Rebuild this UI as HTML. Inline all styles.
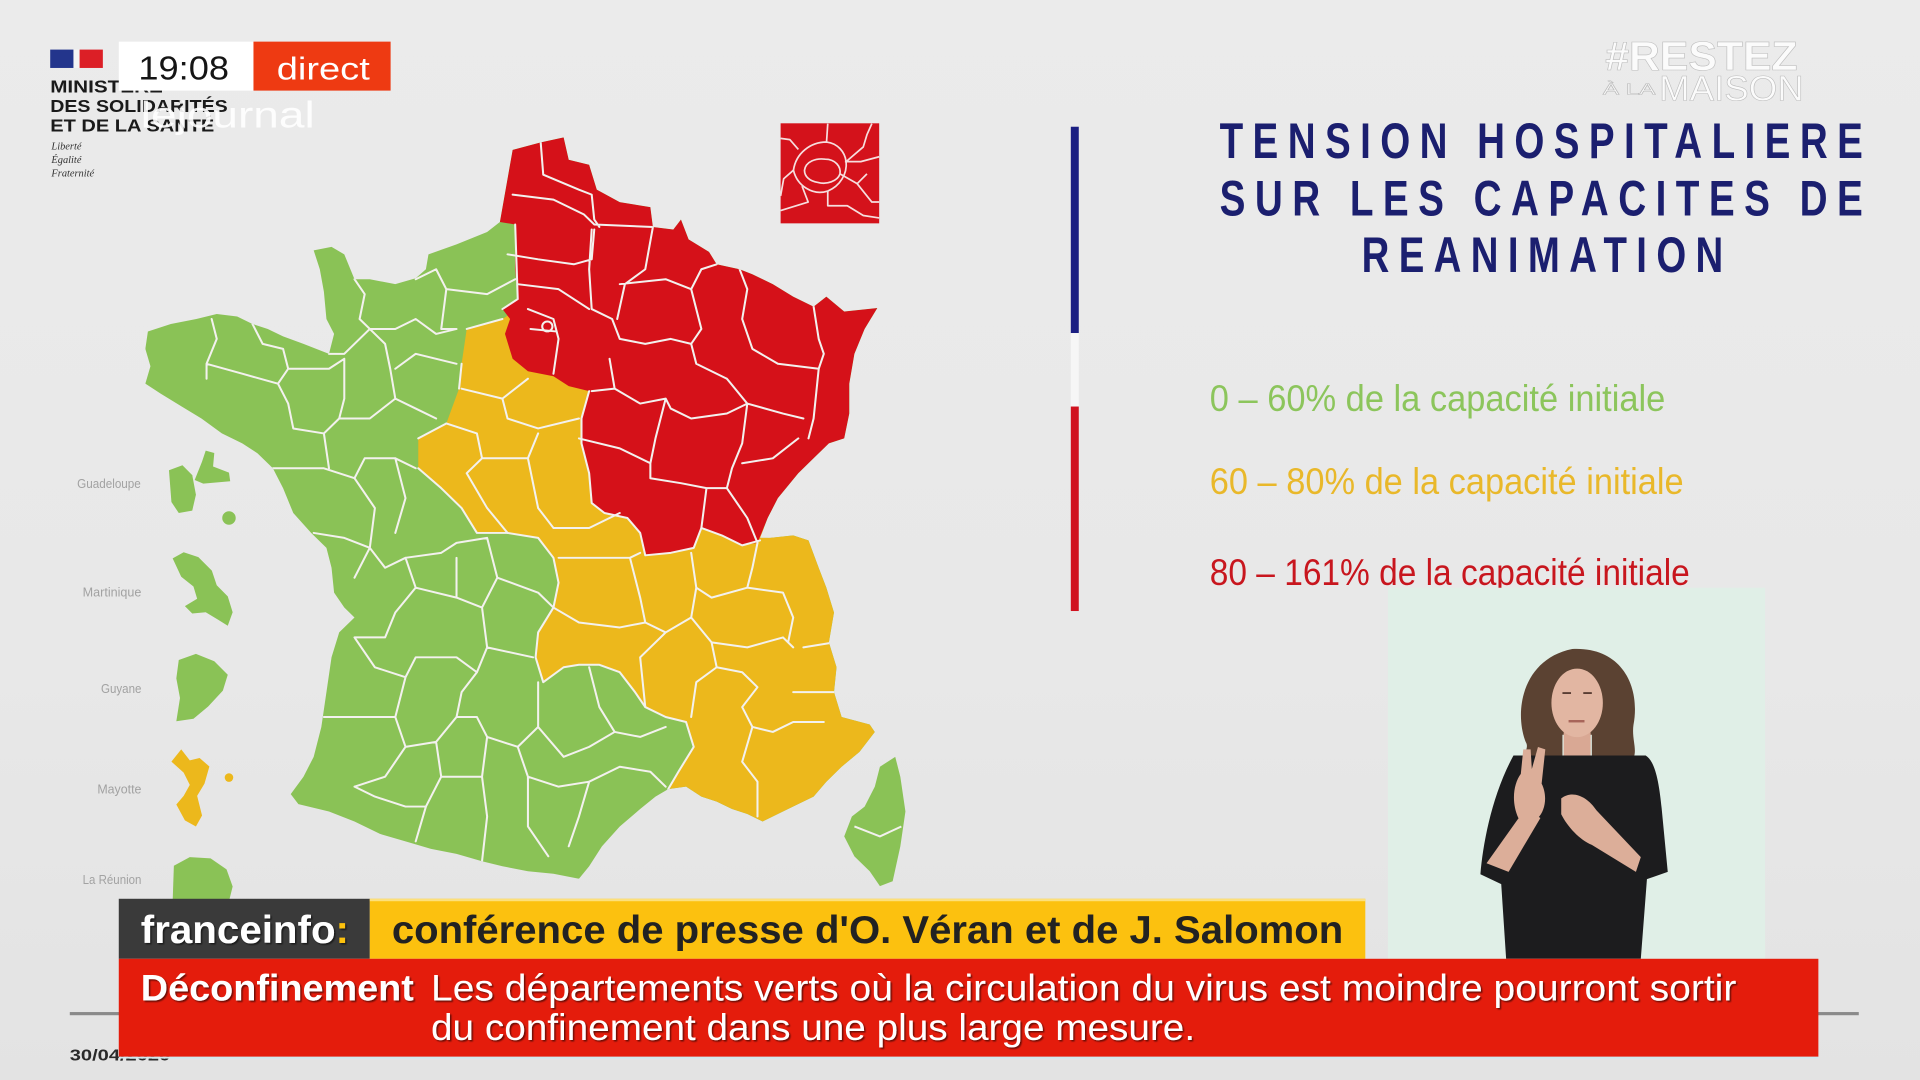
<!DOCTYPE html>
<html><head><meta charset="utf-8">
<style>
html,body{margin:0;padding:0;width:1920px;height:1080px;overflow:hidden;background:#e8e8e8}
svg{display:block}
</style></head>
<body>
<svg width="1920" height="1080" viewBox="0 0 1568 882" xmlns="http://www.w3.org/2000/svg" font-family="'Liberation Sans', 'DejaVu Sans', sans-serif">
<defs>
  <linearGradient id="bg" x1="0" y1="0" x2="0" y2="1">
    <stop offset="0" stop-color="#ebebeb"/>
    <stop offset="0.6" stop-color="#e8e8e8"/>
    <stop offset="1" stop-color="#e3e3e3"/>
  </linearGradient>
  <filter id="sh" x="-5%" y="-20%" width="110%" height="150%">
    <feDropShadow dx="1.2" dy="1.2" stdDeviation="0.6" flood-color="#000" flood-opacity="0.55"/>
  </filter>
  <clipPath id="fr">
    <path d="M725,205 L750,60 L805,45 L850,35 L860,80 L900,90 L915,140 L960,165 L1020,175 L1025,215 L1065,220 L1080,200 L1095,240 L1135,265 L1150,290 L1195,300 L1220,310 L1260,330 L1300,355 L1340,375 L1365,355 L1400,385 L1465,378 L1440,420 L1420,470 L1410,530 L1410,590 L1400,640 L1370,650 L1330,690 L1310,710 L1270,760 L1250,800 L1235,840 L1255,840 L1300,835 L1330,845 L1350,900 L1365,940 L1380,990 L1370,1050 L1385,1100 L1380,1150 L1395,1200 L1450,1215 L1460,1230 L1430,1270 L1395,1300 L1365,1330 L1340,1360 L1290,1385 L1240,1410 L1210,1395 L1180,1385 L1150,1370 L1120,1360 L1090,1340 L1055,1345 L1030,1360 L1000,1385 L960,1420 L925,1460 L900,1500 L880,1525 L830,1515 L780,1510 L730,1500 L690,1490 L640,1475 L590,1465 L540,1450 L490,1435 L440,1410 L390,1390 L330,1375 L315,1355 L340,1320 L360,1280 L375,1220 L385,1150 L395,1080 L410,1030 L440,1000 L420,980 L400,950 L395,900 L385,860 L355,830 L320,790 L300,740 L280,700 L250,670 L220,650 L180,630 L140,600 L100,575 L60,550 L30,530 L40,495 L30,460 L35,425 L80,410 L130,400 L170,390 L210,395 L240,410 L270,420 L300,435 L340,450 L390,470 L400,430 L385,400 L380,345 L372,300 L360,262 L395,255 L420,270 L440,320 L470,320 L520,330 L560,318 L580,300 L585,270 L640,250 L700,225 Z"/>
  </clipPath>
</defs>

<rect x="0" y="0" width="1568" height="882" fill="url(#bg)"/>

<!-- bottom gray rule + date -->
<rect x="57" y="826.5" width="1461" height="2.6" fill="#8a8a8a"/>
<text x="57" y="866" font-size="13" font-weight="bold" fill="#2a2a2a" textLength="82" lengthAdjust="spacingAndGlyphs">30/04/2020</text>

<!-- ===== MAP ===== -->
<g transform="translate(106.2,98) scale(0.4166,0.4063)">
  <g clip-path="url(#fr)">
    <rect x="0" y="0" width="1600" height="1600" fill="#8ac256"/>
    <!-- yellow -->
    <path fill="#ecb81c" d="M660,420 L730,400 L760,380 L900,540 L1200,700 L1250,840 L1300,835 L1330,845 L1350,900 L1365,940 L1380,990 L1370,1050 L1385,1100 L1380,1150 L1395,1200 L1450,1215 L1460,1230 L1430,1270 L1395,1300 L1365,1330 L1340,1360 L1290,1385 L1240,1410 L1210,1395 L1180,1385 L1150,1370 L1120,1360 L1090,1340 L1055,1345 L1075,1310 L1105,1260 L1090,1210 L1050,1200 L1010,1180 L990,1150 L960,1110 L920,1095 L880,1095 L850,1100 L810,1130 L795,1080 L800,1030 L830,980 L840,930 L830,880 L800,840 L740,830 L680,830 L650,780 L610,740 L565,700 L565,640 L620,610 L645,540 L650,490 Z"/>
    <!-- red -->
    <path fill="#d51119" d="M725,205 L750,60 L805,45 L850,35 L860,80 L900,90 L915,140 L960,165 L1020,175 L1025,215 L1065,220 L1080,200 L1095,240 L1135,265 L1150,290 L1195,300 L1220,310 L1260,330 L1300,355 L1340,375 L1365,355 L1400,385 L1465,378 L1440,420 L1420,470 L1410,530 L1410,590 L1400,640 L1370,650 L1330,690 L1310,710 L1270,760 L1250,800 L1230,850 L1200,855 L1160,835 L1120,820 L1105,860 L1060,870 L1010,875 L1000,830 L975,800 L930,790 L905,770 L900,710 L885,650 L885,600 L900,545 L860,535 L830,515 L780,505 L750,480 L735,430 L745,400 L730,380 L760,360 L755,300 L755,210 Z"/>
    <!-- department borders -->
    <g fill="none" stroke="#f3f1ee" stroke-width="4" stroke-linejoin="round" stroke-linecap="round">
      <path d="M755,210 L760,360 L730,380 M660,420 L730,400 M650,490 L645,540 M900,545 L885,600 L885,650 L900,710 L905,770 L930,790 L975,800 L1000,830 L1010,875 L1060,870 L1105,860 L1120,820 L1160,835 L1200,855 L1235,845"/>
      <path d="M565,640 L620,610 M565,700 L610,740 L650,780 L680,830 L740,830 L800,840 L830,880 L840,930 L830,980 L800,1030 L795,1080 L810,1130 L850,1100 L880,1095 L920,1095 L960,1110 L990,1150 L1010,1180 L1050,1200 L1090,1210 L1105,1260 L1075,1310 L1055,1345"/>
      <path d="M805,45 L810,110 L880,140 L905,150 L910,200 L920,215 M750,150 L830,160 L890,190 L910,210 L1025,215 M740,270 L800,280 L870,290 L905,280 L910,220 M760,330 L840,340 L900,380 M905,220 L900,300 L905,380 L945,400 L960,440 M1025,215 L1010,300 L970,330 L955,400 M960,330 L1050,320 L1100,340 L1120,300 L1150,290 M1100,340 L1120,420 L1100,450 L1110,490 L1170,520 M1195,300 L1210,340 L1200,400 L1220,460 L1270,490 L1350,500 M1340,375 L1350,440 L1360,470 L1350,500 L1340,600 L1330,640 M960,440 L1010,450 L1060,440 L1100,450 M940,480 L950,540 L1000,570 L1050,560 L1060,580 M905,545 L950,540 M880,640 L960,660 L1020,690 L1020,720 M1050,560 L1030,640 L1020,690 M1060,580 L1100,600 L1170,590 L1210,570 M1170,520 L1210,570 L1280,590 L1320,600 M1210,570 L1200,650 L1180,700 L1170,740 L1130,740 M1020,720 L1080,730 L1130,740 L1170,740 M1200,690 L1260,680 L1310,640 M1170,740 L1210,800 L1230,850 M1120,820 L1130,740 M780,380 L830,400 L840,440 L830,510 M785,420 L835,425"/>
      <circle cx="818" cy="415" r="10"/>
      <path d="M650,540 L730,560 L780,520 M730,560 L740,600 L800,620 L880,600 M620,610 L680,630 L690,680 L660,710 M690,680 L780,680 L800,630 M780,680 L800,780 L830,820 M660,710 L700,780 L740,830 M830,820 L900,820 L960,790 M840,880 L900,880 L980,880 L1000,870 M980,880 L1000,960 L1010,1010 L960,1020 L880,1010 L830,980 M1010,1010 L1050,1030 L1100,1000 L1110,940 L1100,870 M1100,1000 L1140,1050 L1150,1100 L1110,1130 L1100,1200 M1150,1100 L1200,1110 L1230,1140 L1200,1180 L1220,1220 L1200,1290 M1220,1220 L1260,1230 L1300,1210 L1360,1210 M1200,1290 L1230,1330 L1230,1400 M1140,1050 L1210,1060 L1280,1040 L1300,1060 M1210,940 L1280,950 L1300,1000 L1290,1050 M1230,850 L1220,900 L1210,940 L1140,960 L1110,940 M1320,1060 L1380,1050 M1300,1150 L1380,1150 M1050,1030 L1000,1080 L1010,1180"/>
      <path d="M600,300 L620,340 L700,350 L755,320 M600,300 L560,320 M440,320 L460,350 L450,400 L470,420 L520,420 L560,400 L600,430 L640,420 M620,340 L610,420 L640,420 M390,470 L420,470 L470,420 M160,400 L170,440 L150,490 L150,520 M150,490 L220,510 L290,530 L310,570 M240,410 L260,450 L300,460 L310,500 L290,530 M310,500 L390,500 L420,480 M420,480 L420,560 L410,600 M470,420 L500,450 L510,500 L520,560 L560,580 L600,600 M520,500 L560,470 L640,490 M410,600 L470,600 L520,560 M310,570 L320,620 L380,630 L410,600 M280,700 L320,700 L380,700 L440,720 M380,630 L390,700 M440,720 L460,680 L520,680 L560,700 M520,680 L540,760 L520,830 M440,720 L480,780 L470,860 L440,920 M360,830 L420,840 L470,860 M470,860 L500,900 L540,880 L610,870 L640,850 L700,840 M540,880 L560,940 L520,990 L500,1040 L440,1040 M560,940 L640,960 L690,980 L700,1060 L680,1110 M640,960 L640,880 M700,840 L720,920 L690,980 M720,920 L800,950 L830,980 M700,1060 L790,1080 M440,1040 L480,1100 L540,1120 L560,1080 L640,1080 L680,1110 M540,1120 L520,1200 L540,1260 L500,1320 L440,1340 M380,1200 L460,1200 L520,1200 M540,1260 L600,1250 L640,1200 L680,1200 L700,1240 M680,1110 L650,1150 L640,1200 M700,1240 L760,1260 L800,1220 L800,1130 M760,1260 L780,1320 L840,1340 L900,1330 M900,1100 L920,1180 L950,1230 L900,1260 L850,1280 L800,1220 M950,1230 L1000,1240 L1050,1220 M900,1330 L960,1300 L1020,1310 L1050,1340 M600,1250 L610,1320 L580,1380 L560,1450 M700,1240 L690,1320 L700,1400 L690,1490 M780,1320 L780,1420 L820,1480 M440,1340 L480,1360 L540,1380 L580,1380 M900,1330 L880,1400 L860,1460 M610,1320 L690,1320"/>
    </g>
  </g>
  <!-- Corsica -->
  <path fill="#8ac256" d="M1470,1300 L1500,1280 L1510,1320 L1520,1390 L1510,1460 L1495,1530 L1470,1540 L1450,1510 L1420,1480 L1400,1440 L1415,1400 L1440,1380 L1460,1340 Z"/>
  <path d="M1420,1420 L1470,1440 L1512,1420" fill="none" stroke="#f3f1ee" stroke-width="4"/>
</g>

<!-- Paris inset -->
<rect x="637.5" y="100.7" width="80.5" height="81.7" fill="#d4121b"/>
<g fill="none" stroke="#f6dede" stroke-width="1.4" stroke-linejoin="round">
  <path d="M648,139 C650,125 662,116 675,116 C684,117 690,124 691,132 C692,142 686,152 676,156 C664,160 651,152 648,139 Z"/>
  <path d="M657,139 C658,132 666,129 674,130 C682,130 687,136 686,142 C684,148 675,151 668,149 C661,148 657,144 657,139 Z"/>
  <path d="M637.5,113 L645,114 L652,122 M675,116 L676,101 M691,132 L705,120 L708,110 L712,101 M690,132 L703,132 L718,128 M676,156 L676,168 L692,168 L705,176 L718,178 M648,139 L640,146 L637.5,160 M655,152 L660,165 L637.5,172 M686,142 L700,150 L712,165 L718,165 M700,150 L708,142"/>
</g>

<!-- Overseas -->
<g fill="#8ac256">
  <path d="M138,384 L149,380 L157,388 L160,404 L157,417 L146,419 L140,410 Z"/>
  <path d="M159,392 L165,377 L168,368 L175,370 L174,381 L187,386 L188,393 L166,395 Z"/>
  <circle cx="187" cy="423" r="5.5"/>
  <path d="M141,456 L150,451 L162,455 L173,466 L177,478 L186,487 L190,500 L186,511 L178,506 L168,500 L157,501 L151,495 L161,489 L158,479 L148,471 Z"/>
  <path d="M146,539 L160,534 L175,540 L186,551 L182,564 L170,577 L158,587 L144,589 L147,570 L144,554 Z"/>
  <path d="M142,707 L155,700 L172,701 L185,710 L190,724 L187,736 L141,736 Z"/>
</g>
<g fill="#ecb81c">
  <path d="M140,622 L148,612 L155,621 L163,619 L171,626 L167,640 L161,650 L165,666 L160,675 L151,670 L144,657 L150,650 L155,641 L150,631 Z"/>
  <circle cx="187" cy="635" r="3.5"/>
</g>
<g font-size="10.5" fill="#a2a2a2" text-anchor="end">
  <text x="115" y="398.5" textLength="52" lengthAdjust="spacingAndGlyphs">Guadeloupe</text>
  <text x="115.5" y="487" textLength="48" lengthAdjust="spacingAndGlyphs">Martinique</text>
  <text x="115.5" y="566" textLength="33" lengthAdjust="spacingAndGlyphs">Guyane</text>
  <text x="115.5" y="648" textLength="36" lengthAdjust="spacingAndGlyphs">Mayotte</text>
  <text x="115.5" y="722" textLength="48" lengthAdjust="spacingAndGlyphs">La Réunion</text>
</g>

<!-- Vertical tricolour line -->
<rect x="874.5" y="103.5" width="6.5" height="168.5" fill="#1b1f82"/>
<rect x="874.5" y="272" width="6.5" height="60" fill="#f6f6f6"/>
<rect x="874.5" y="332" width="6.5" height="167" fill="#d0121f"/>

<!-- Title -->
<g font-size="41" font-weight="bold" fill="#1b1f6f" letter-spacing="10">
  <text x="996" y="129" textLength="533" lengthAdjust="spacingAndGlyphs">TENSION HOSPITALIERE</text>
  <text x="996" y="176" textLength="533" lengthAdjust="spacingAndGlyphs">SUR LES CAPACITES DE</text>
  <text x="1112" y="222" textLength="303" lengthAdjust="spacingAndGlyphs">REANIMATION</text>
</g>

<!-- Legend -->
<g font-size="30">
  <text x="988" y="335.5" fill="#8cc55c" textLength="372" lengthAdjust="spacingAndGlyphs">0 – 60% de la capacité initiale</text>
  <text x="988" y="403.3" fill="#e9b82a" textLength="387" lengthAdjust="spacingAndGlyphs">60 – 80% de la capacité initiale</text>
  <text x="988" y="477.6" fill="#c8161e" textLength="392" lengthAdjust="spacingAndGlyphs">80 – 161% de la capacité initiale</text>
</g>

<!-- Sign language interpreter -->
<rect x="1133.5" y="480" width="308" height="303" fill="#e0efe7"/>
<g>
  <!-- hair -->
  <path fill="#5b4232" d="M1246,606 C1236,580 1244,538 1284,530 C1324,528 1340,560 1334,592 C1332,606 1340,616 1330,624 L1300,624 L1300,600 L1276,600 L1276,624 L1248,624 C1240,618 1250,612 1246,606 Z"/>
  <!-- neck -->
  <rect x="1277" y="598" width="22" height="22" fill="#d9a894"/>
  <!-- face -->
  <ellipse cx="1288" cy="574" rx="21" ry="28" fill="#e2b6a2"/>
  <path d="M1276,566 h7 M1293,566 h7" stroke="#5a3d33" stroke-width="1.5"/>
  <path d="M1281,589 h13" stroke="#a8655a" stroke-width="2"/>
  <!-- body -->
  <path fill="#1c1c1e" d="M1236,617 L1344,617 C1352,622 1355,640 1357,660 L1362,712 L1345,718 L1340,783 L1230,783 L1226,722 L1209,714 C1211,690 1218,650 1236,617 Z"/>
  <!-- left arm & hand -->
  <path fill="#dcae99" d="M1214,705 L1232,712 L1258,668 L1246,660 Z"/>
  <path fill="#dcae99" d="M1240,668 C1234,655 1236,640 1242,632 L1244,612 L1250,612 L1251,628 L1256,610 L1262,612 L1259,640 C1264,650 1262,662 1256,668 Z"/>
  <!-- right arm & hand -->
  <path fill="#dcae99" d="M1275,652 C1284,645 1296,650 1304,662 L1340,700 L1336,712 L1300,690 C1290,686 1280,675 1275,665 Z"/>
</g>

<!-- Ministry logo -->
<rect x="41" y="40.5" width="19" height="15" fill="#23358c"/>
<rect x="60" y="40.5" width="5" height="15" fill="#f4f4f4"/>
<rect x="65" y="40.5" width="19" height="15" fill="#dc1f26"/>
<g font-size="14.5" font-weight="bold" fill="#1a1a1a">
  <text x="41" y="75.5" textLength="92" lengthAdjust="spacingAndGlyphs">MINISTÈRE</text>
  <text x="41" y="91.5" textLength="145" lengthAdjust="spacingAndGlyphs">DES SOLIDARITÉS</text>
  <text x="41" y="107.5" textLength="134" lengthAdjust="spacingAndGlyphs">ET DE LA SANTÉ</text>
</g>
<g font-family="'Liberation Serif', serif" font-style="italic" font-size="8.5" fill="#333">
  <text x="42" y="122">Liberté</text>
  <text x="42" y="133">Égalité</text>
  <text x="42" y="144">Fraternité</text>
</g>

<!-- time / direct -->
<rect x="97" y="34" width="110" height="40" fill="#ffffff"/>
<rect x="207" y="34" width="112" height="40" fill="#ee3a12"/>
<text x="113" y="65" font-size="27" fill="#151515" textLength="74" lengthAdjust="spacingAndGlyphs">19:08</text>
<text x="226" y="65" font-size="26" fill="#ffffff" textLength="76" lengthAdjust="spacingAndGlyphs">direct</text>
<text x="115" y="104" font-size="30" fill="#ffffff" fill-opacity="0.9" textLength="142" lengthAdjust="spacingAndGlyphs">lejournal</text>

<!-- #RESTEZ A LA MAISON -->
<g fill="#fbfbfb" stroke="#bdbdbd" stroke-width="0.5">
  <text x="1311" y="57" font-size="33" font-weight="bold" textLength="157" lengthAdjust="spacingAndGlyphs">#RESTEZ</text>
  <text x="1309" y="77" font-size="13" textLength="43" lengthAdjust="spacingAndGlyphs">À LA</text>
  <text x="1355" y="82" font-size="29" textLength="118" lengthAdjust="spacingAndGlyphs">MAISON</text>
</g>

<!-- Banners -->
<rect x="97" y="734" width="205" height="49" fill="#3a3a3a"/>
<rect x="302" y="734" width="813" height="49" fill="#fcc10f"/>
<rect x="302" y="734" width="813" height="2" fill="#fde07a"/>
<rect x="97" y="783" width="1388" height="80" fill="#e41c0c"/>
<rect x="97" y="863" width="1388" height="1.5" fill="#cfe9ef"/>

<text x="115" y="770" font-size="32" font-weight="bold" fill="#ffffff" textLength="170" lengthAdjust="spacingAndGlyphs" filter="url(#sh)">franceinfo<tspan fill="#fcc10f">:</tspan></text>
<text x="320" y="770" font-size="32" font-weight="bold" fill="#222222" textLength="777" lengthAdjust="spacingAndGlyphs">conférence de presse d'O. Véran et de J. Salomon</text>

<g fill="#ffffff" filter="url(#sh)">
  <text x="115" y="817" font-size="30" font-weight="bold" textLength="223" lengthAdjust="spacingAndGlyphs">Déconfinement</text>
  <text x="352" y="817" font-size="30" textLength="1066" lengthAdjust="spacingAndGlyphs">Les départements verts où la circulation du virus est moindre pourront sortir</text>
  <text x="352" y="849.5" font-size="30" textLength="624" lengthAdjust="spacingAndGlyphs">du confinement dans une plus large mesure.</text>
</g>
</svg>
</body></html>
